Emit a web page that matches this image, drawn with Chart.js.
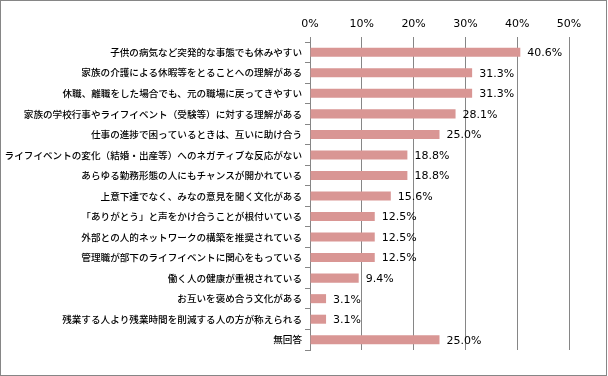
<!DOCTYPE html>
<html>
<head>
<meta charset="utf-8">
<script src="https://cdn.jsdelivr.net/npm/chart.js@4"></script>
<style>
  html, body { margin: 0; padding: 0; background: #fff; }
  #wrap { position: relative; width: 608px; height: 376px; }
</style>
</head>
<body>
<div id="wrap"><canvas id="chart"></canvas></div>
<script>
const categories = [
  '子供の病気など突発的な事態でも休みやすい',
  '家族の介護による休暇等をとることへの理解がある',
  '休職、離職をした場合でも、元の職場に戻ってきやすい',
  '家族の学校行事やライフイベント（受験等）に対する理解がある',
  '仕事の進捗で困っているときは、互いに助け合う',
  'ライフイベントの変化（結婚・出産等）へのネガティブな反応がない',
  'あらゆる勤務形態の人にもチャンスが開かれている',
  '上意下達でなく、みなの意見を聞く文化がある',
  '「ありがとう」と声をかけ合うことが根付いている',
  '外部との人的ネットワークの構築を推奨されている',
  '管理職が部下のライフイベントに関心をもっている',
  '働く人の健康が重視されている',
  'お互いを褒め合う文化がある',
  '残業する人より残業時間を削減する人の方が称えられる',
  '無回答'
];
const values = [40.6, 31.3, 31.3, 28.1, 25.0, 18.8, 18.8, 15.6, 12.5, 12.5, 12.5, 9.4, 3.1, 3.1, 25.0];
const tickValues = [0, 10, 20, 30, 40, 50];

const gray = '#868686';

// value labels to the right of each bar
const valueLabels = {
  id: 'valueLabels',
  afterDatasetsDraw(chart) {
    const ctx = chart.ctx;
    ctx.save();
    ctx.font = '11px "DejaVu Sans"';
    ctx.fillStyle = '#000';
    ctx.textAlign = 'left';
    ctx.textBaseline = 'middle';
    chart.getDatasetMeta(0).data.forEach((bar, i) => {
      ctx.fillText(values[i].toFixed(1) + '%', bar.x + 7, bar.y + 1);
    });
    ctx.restore();
  }
};

const frame = {
  id: 'frame',
  afterDraw(chart) {
    const ctx = chart.ctx;
    ctx.save();
    ctx.strokeStyle = gray;
    ctx.lineWidth = 1;
    ctx.strokeRect(0.5, 0.5, 606, 375);
    ctx.restore();
  }
};

new Chart(document.getElementById('chart'), {
  type: 'bar',
  data: {
    labels: categories,
    datasets: [{
      data: values,
      backgroundColor: '#D99694',
      barPercentage: 0.44,
      categoryPercentage: 1
    }]
  },
  options: {
    indexAxis: 'y',
    responsive: true,
    maintainAspectRatio: false,
    animation: false,
    layout: { padding: { top: 0, left: 0, right: 39, bottom: 26 } },
    plugins: { legend: { display: false }, tooltip: { enabled: false } },
    scales: {
      x: {
        position: 'top',
        min: 0,
        max: 50,
        afterBuildTicks(scale) { scale.ticks = tickValues.map(v => ({ value: v })); },
        afterFit(scale) { scale.height = 42; },
        ticks: {
          padding: 6,
          color: '#000',
          font: { family: 'DejaVu Sans', size: 11 },
          callback: v => v + '%'
        },
        grid: { color: gray, tickLength: 5, drawTicks: true },
        border: { display: false }
      },
      y: {
        afterFit(scale) { scale.width = 310; },
        ticks: {
          padding: 3,
          color: '#000',
          autoSkip: false,
          font: { family: '"Noto Sans CJK JP"', size: 9.6, weight: '500' }
        },
        grid: { drawOnChartArea: false, color: gray, tickLength: 5, offset: true },
        border: { display: true, color: gray }
      }
    }
  },
  plugins: [valueLabels, frame]
});
</script>
</body>
</html>
